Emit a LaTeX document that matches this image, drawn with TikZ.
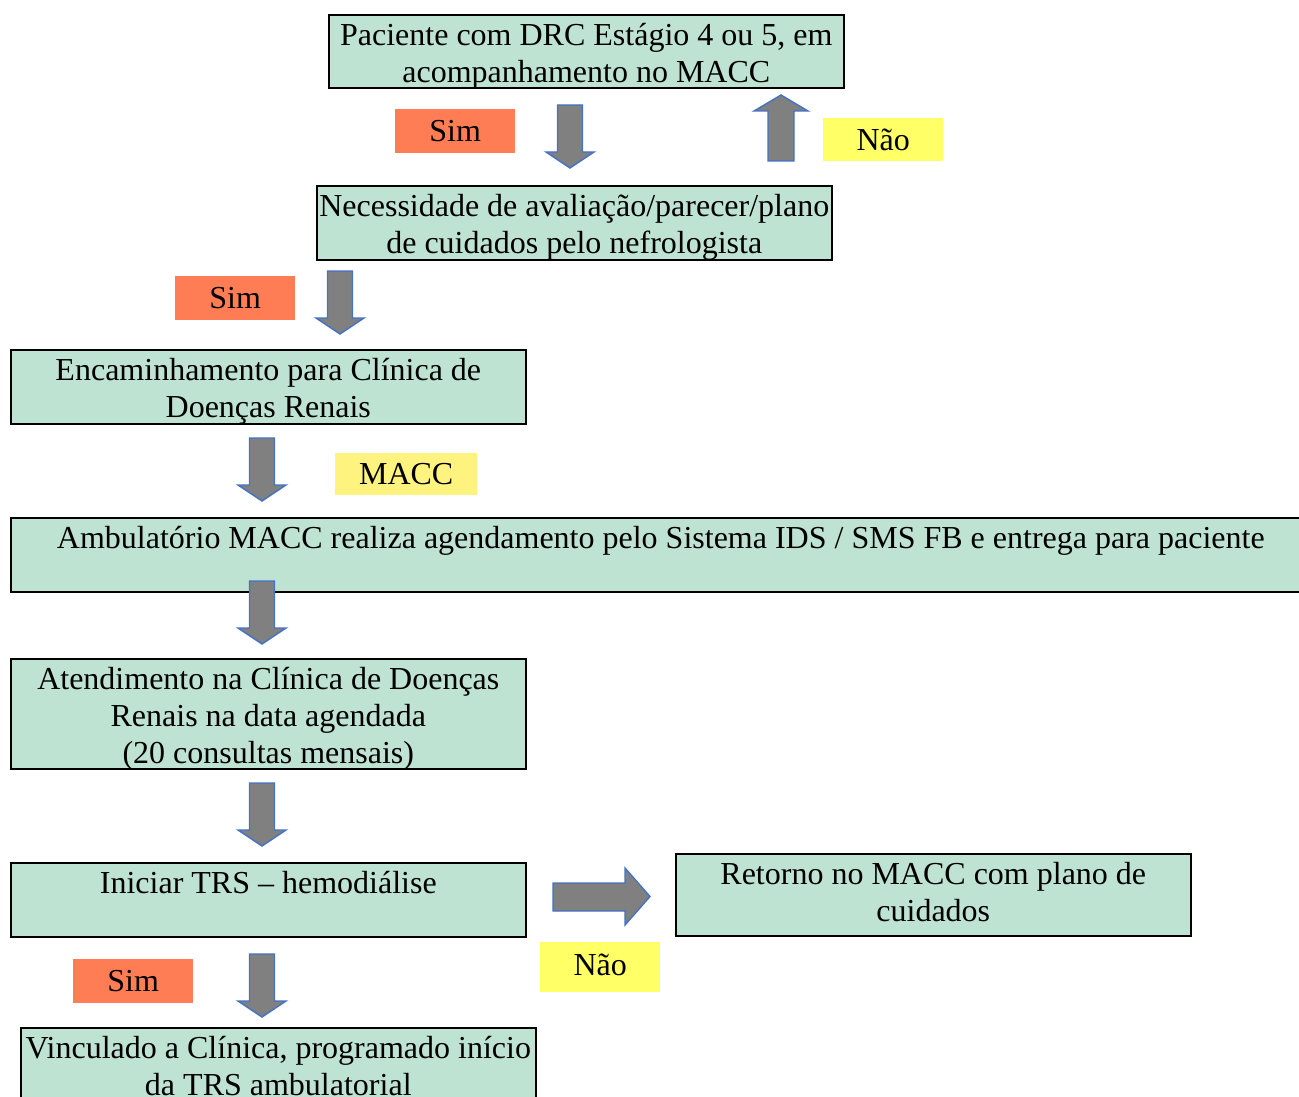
\documentclass[tikz,border=0pt]{standalone}
\usepackage{fontspec}
\setmainfont{Liberation Serif}
\definecolor{menta}{RGB}{190,227,211}
\definecolor{coral}{RGB}{255,125,85}
\definecolor{amarelo}{RGB}{255,255,102}
\definecolor{creme}{RGB}{255,243,128}
\definecolor{azul}{RGB}{68,114,196}
\newcommand{\etapatxt}[3]{\parbox[c][#2pt][t]{#1pt}{\centering\rule{0pt}{31pt}#3}}
\tikzset{
  every picture/.style={font=\fontsize{32}{37}\selectfont},
  etapa/.style={draw=black,line width=1.6pt,fill=menta,inner sep=0pt,anchor=north west},
  rotulo/.style={minimum width=120pt,minimum height=44pt,inner sep=0pt,anchor=north west},
  seta/.style={draw=azul,fill=gray,line width=1.4pt,line join=miter},
}

\begin{document}
\begin{tikzpicture}[x=1pt,y=-1pt]
  \useasboundingbox (0,0) rectangle (1299,1097);
  % etapas
  \node[etapa] (paciente) at (328,14)
    {\etapatxt{515}{73}{Paciente com DRC Estágio 4 ou 5, em\\acompanhamento no MACC}};
  \node[etapa] (necessidade) at (316,185)
    {\etapatxt{515}{74}{Necessidade de avaliação/parecer/plano\\de cuidados pelo nefrologista}};
  \node[etapa] (encaminha) at (10,349)
    {\etapatxt{515}{74}{Encaminhamento para Clínica de\\Doenças Renais}};
  \node[etapa] (ambulatorio) at (10,517)
    {\etapatxt{1300}{74}{Ambulatório MACC realiza agendamento pelo Sistema IDS / SMS FB e entrega para paciente}};
  \node[etapa] (atendimento) at (10,658)
    {\etapatxt{515}{110}{Atendimento na Clínica de Doenças\\Renais na data agendada\\(20 consultas mensais)}};
  \node[etapa] (iniciar) at (10,862)
    {\etapatxt{515}{74}{Iniciar TRS – hemodiálise}};
  \node[etapa] (retorno) at (675,853)
    {\etapatxt{515}{82}{Retorno no MACC com plano de\\cuidados}};
  \node[etapa] (vinculado) at (20,1027)
    {\etapatxt{515}{82}{Vinculado a Clínica, programado início\\da TRS ambulatorial}};
  % respostas
  \node[rotulo,fill=coral] (sim1) at (395,109) {Sim};
  \node[rotulo,fill=amarelo,minimum height=43pt] (nao1) at (823,118) {Não};
  \node[rotulo,fill=coral] (sim2) at (175,276) {Sim};
  \node[rotulo,fill=creme,minimum width=142pt,minimum height=42pt] (macc) at (335,453) {MACC};
  \node[rotulo,fill=amarelo,minimum height=50pt] (nao2) at (540,942) {\raisebox{5pt}{Não}};
  \node[rotulo,fill=coral] (sim3) at (73,959) {Sim};
  % setas para baixo
  \draw[seta] (557.5,105) -- ++(25,0) -- ++(0,47) -- ++(11.5,0) -- ++(-24,16) -- ++(-24,-16) -- ++(11.5,0) -- cycle;
  \draw[seta] (327.5,271) -- ++(25,0) -- ++(0,47) -- ++(11.5,0) -- ++(-24,16) -- ++(-24,-16) -- ++(11.5,0) -- cycle;
  \draw[seta] (249.5,438) -- ++(25,0) -- ++(0,47) -- ++(11.5,0) -- ++(-24,16) -- ++(-24,-16) -- ++(11.5,0) -- cycle;
  \draw[seta] (249.5,581) -- ++(25,0) -- ++(0,47) -- ++(11.5,0) -- ++(-24,16) -- ++(-24,-16) -- ++(11.5,0) -- cycle;
  \draw[seta] (249.5,783) -- ++(25,0) -- ++(0,47) -- ++(11.5,0) -- ++(-24,16) -- ++(-24,-16) -- ++(11.5,0) -- cycle;
  \draw[seta] (249.5,954) -- ++(25,0) -- ++(0,47) -- ++(11.5,0) -- ++(-24,16) -- ++(-24,-16) -- ++(11.5,0) -- cycle;
  % seta para cima
  \draw[seta] (768,161) -- ++(0,-50) -- ++(-14,0) -- (781,95) -- (808,111) -- ++(-14,0) -- ++(0,50) -- cycle;
  % seta para a direita
  \draw[seta] (553,883) -- ++(72,0) -- ++(0,-15) -- (650,896.5) -- (625,925) -- ++(0,-14) -- ++(-72,0) -- cycle;
\end{tikzpicture}
\end{document}
